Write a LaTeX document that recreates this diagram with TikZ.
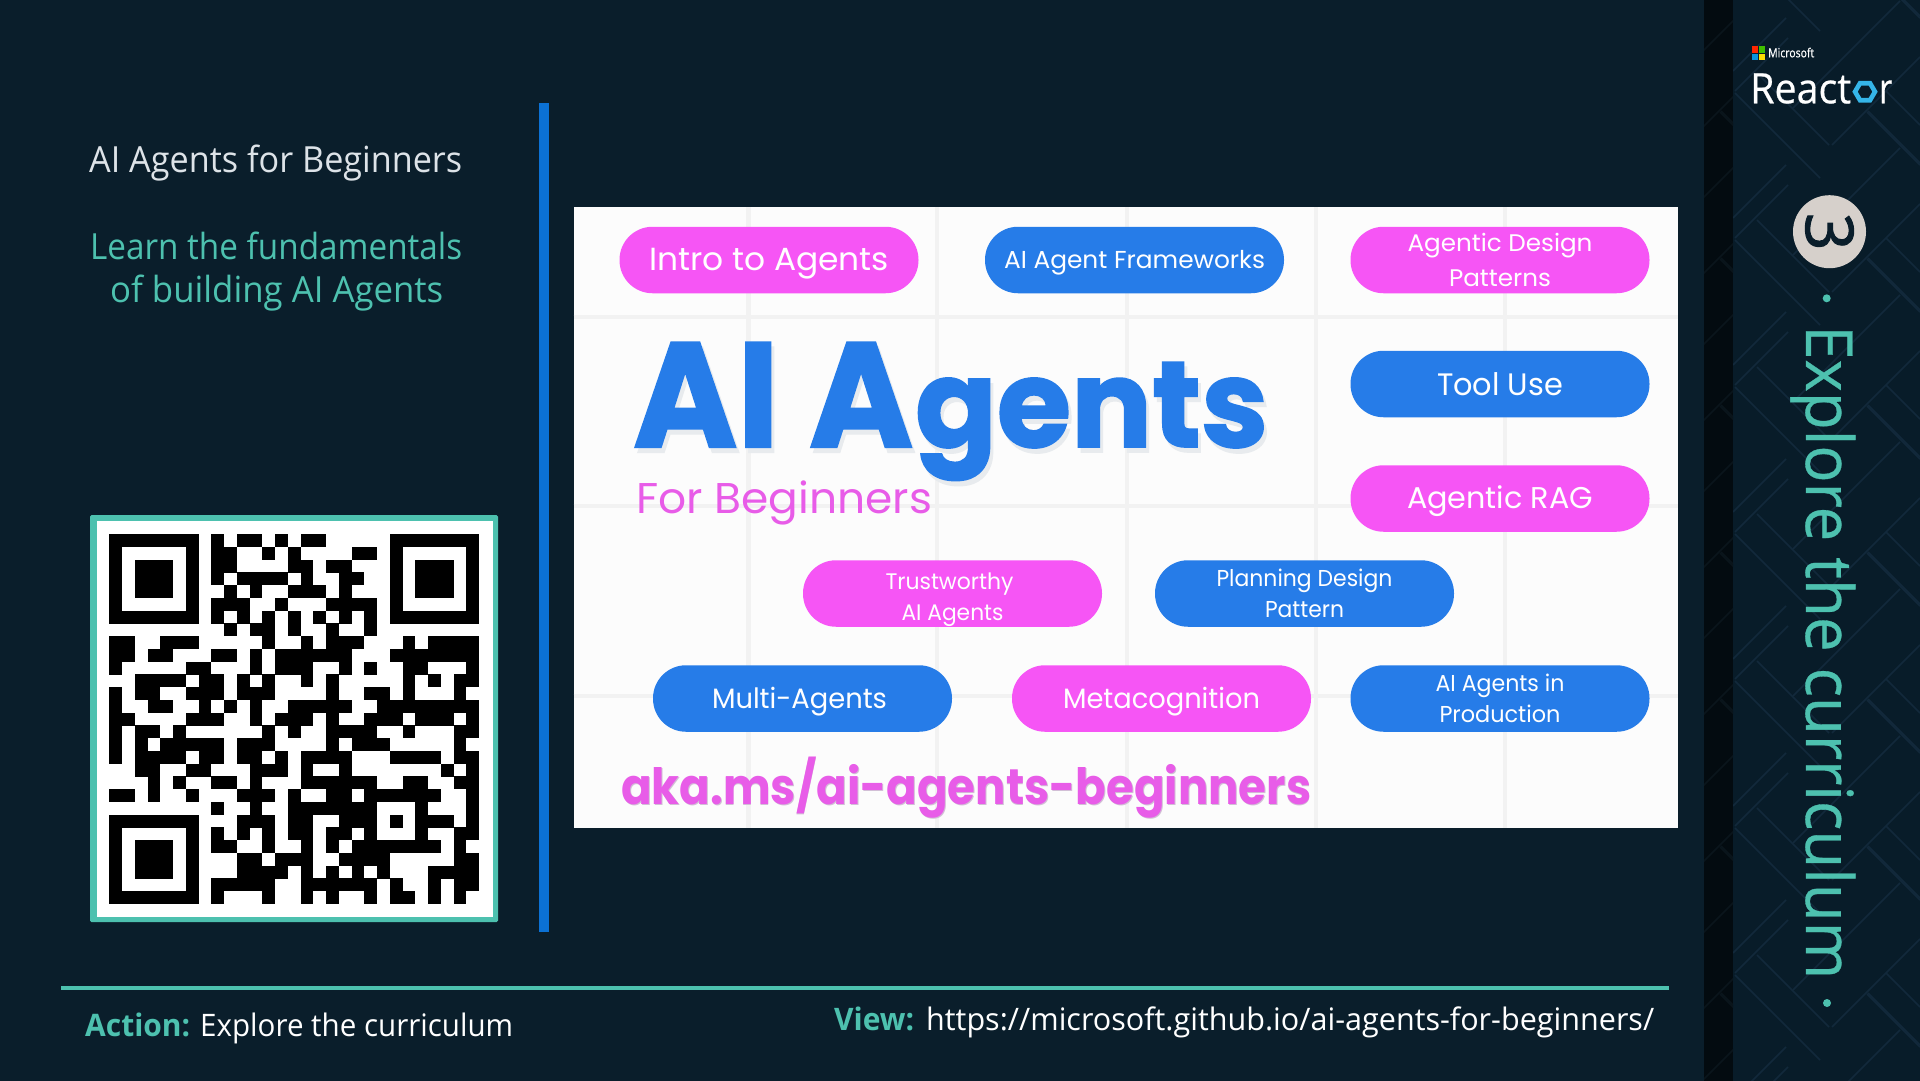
\documentclass[tikz,border=0pt]{standalone}
\usepackage{fontspec}
\usepackage{graphicx}
\newfontfamily\segr{Open Sans}
\newfontfamily\segm{Open Sans}[FakeBold=0.5]
\newfontfamily\segh{Open Sans}[FakeBold=1.5]
\newfontfamily\pop{Poppins}
\newfontfamily\popb{Poppins Bold}[FakeBold=1.5]
\newfontfamily\popc{Poppins Bold}
\definecolor{bgc}{HTML}{0A1E2B}
\definecolor{sidec}{HTML}{081C29}
\definecolor{bandc}{HTML}{030B10}
\definecolor{patc}{HTML}{12293B}
\definecolor{pat2c}{HTML}{0A151C}
\definecolor{tealc}{HTML}{4DC1AF}
\definecolor{titlec}{HTML}{DDE3E8}
\definecolor{bluec}{HTML}{267CE8}
\definecolor{pinkc}{HTML}{F655F5}
\definecolor{pink2c}{HTML}{E85CE8}
\definecolor{gridc}{HTML}{F2F2F2}
\definecolor{barc}{HTML}{0B71D4}
\definecolor{shadc}{HTML}{E8EBEE}
\definecolor{shad2c}{HTML}{D2BFD6}
\definecolor{circc}{HTML}{D6D0CB}
\definecolor{hexc}{HTML}{35B5E8}
\newlength\fitlen
\newcommand{\fitx}[2]{\settowidth{\fitlen}{#2}\pgfmathsetmacro{\fitr}{#1/\fitlen}\scalebox{\fitr}[1]{#2}}
\newcommand{\bigtext}{\fitx{280}{\fontsize{149}{160}\selectfont AI A}\kern2pt\fitx{353}{\fontsize{122}{160}\selectfont gents}}
\tikzset{
  pill/.style={rounded corners=33pt,inner sep=0pt,text=white,align=center,minimum width=299pt,minimum height=66.5pt,text depth=0pt},
  pillblue/.style={pill,fill=bluec},
  pillpink/.style={pill,fill=pinkc},
  plain/.style={inner sep=0pt,anchor=base west},
  gridline/.style={gridc,line width=4.5pt},
  patline/.style={line width=1.6pt}
}
\newcommand{\qr}[2]{\foreach \a/\b in {#2}{\fill[black] ({109.3+\a*12.75},{534.3+#1*12.75-0.15}) rectangle ({109.3+(\b+1)*12.75},{534.3+(#1+1)*12.75+0.15});}}
\newcommand{\pattile}{%
  \foreach \k in {-1,...,7}{
    \begin{scope}[yshift={\k*147pt}]
      \draw (1735,973) -- ++(53,-53);
      \draw (1733,953) -- ++(53,-53);
      \draw (1793,990) -- ++(107,-107);
      \draw (1832,1027) -- ++(88,-88);
      \draw (1757,955) -- ++(72,72);
      \draw (1735,975) -- ++(85,85);
      \draw (1867,847) -- ++(53,53);
      \draw (1868,993) -- ++(52,52);
      \draw (1886,973) -- ++(34,34);
    \end{scope}
  }
}
\begin{document}
\begin{tikzpicture}[x=1pt,y=-1pt]
\useasboundingbox (0,0) rectangle (1920,1080);
\fill[bgc] (-5,-5) rectangle (1925,1085);
% side panel
\fill[bandc] (1704,-5) rectangle (1733,1085);
\fill[sidec] (1733,-5) rectangle (1925,1085);
\begin{scope}
  \clip (1733,-5) rectangle (1925,1085);
  \begin{scope}[patline,patc]\pattile\end{scope}
\end{scope}
\begin{scope}
  \clip (1704,-5) rectangle (1733,1085);
  \begin{scope}[patline,pat2c,xshift=-147pt]\pattile\end{scope}
\end{scope}
% Microsoft logo
\fill[red!70!orange] (1752,46) rectangle (1758,52.5);
\fill[green!50!olive] (1759,46) rectangle (1765,52.5);
\fill[cyan!80!blue] (1752,53.5) rectangle (1758,60);
\fill[yellow!80!orange] (1759,53.5) rectangle (1765,60);
\node[plain,text=white] (ms) at (1768,57.3) {\fontsize{12.5}{15}\selectfont\segm\fitx{46}{Microsoft}};
\node[plain,text=white] (react) at (1750,103.3) {\fontsize{42}{50}\selectfont\segm\fitx{101}{React}};
\node[plain,text=white] (reactr) at (1879,103.3) {\fontsize{42}{50}\selectfont\segm\fitx{13}{r}};
\draw[line width=4.6pt,color=hexc,line join=miter] (1875,91.7) -- (1870,100.2) -- (1860,100.2) -- (1855,91.7) -- (1860,83.2) -- (1870,83.2) -- cycle;
% number
\fill[circc] (1829.5,231.7) circle (36.5);
\node[rotate=-90,text=bgc,inner sep=0pt] (num) at (1829.5,231.7) {\fontsize{66}{70}\selectfont\segh 3};
\fill[tealc] (1826.7,298.3) circle (4);
\node[plain,rotate=-90,text=tealc] (side) at (1806,325) {\fontsize{65}{70}\selectfont\segm\fitx{654}{Explore the curriculum}};
\fill[tealc] (1827,1003) circle (4);
% left text
\node[plain,text=titlec] (title) at (89,172) {\fontsize{36}{40}\selectfont\segr\fitx{373}{AI Agents for Beginners}};
\node[plain,text=tealc] (sub1) at (90,259) {\fontsize{36}{40}\selectfont\segr\fitx{372}{Learn the fundamentals}};
\node[plain,text=tealc] (sub2) at (110,302) {\fontsize{36}{40}\selectfont\segr\fitx{333}{of building AI Agents}};
% QR
\fill[tealc,rounded corners=1.5pt] (90,515) rectangle (498,922);
\fill[white] (96.7,521) rectangle (492.7,916.7);
\qr{0}{0/6,8/8,10/11,13/13,15/16,22/28}
\qr{1}{0/0,6/6,8/9,12/12,14/14,19/20,22/22,28/28}
\qr{2}{0/0,2/4,6/6,8/9,14/15,17/18,22/22,24/26,28/28}
\qr{3}{0/0,2/4,6/6,8/8,10/13,15/15,18/19,22/22,24/26,28/28}
\qr{4}{0/0,2/4,6/6,9/9,11/11,14/16,18/18,22/22,24/26,28/28}
\qr{5}{0/0,6/6,8/10,13/13,17/20,22/22,28/28}
\qr{6}{0/6,8/8,10/10,12/12,14/14,16/16,18/18,20/20,22/28}
\qr{7}{9/9,11/12,14/14,17/17,20/20}
\qr{8}{0/1,4/6,12/12,15/15,17/19,23/23,25/28}
\qr{9}{0/1,3/4,8/9,11/11,13/18,22/28}
\qr{10}{0/0,6/7,11/11,13/15,18/18,20/20,23/24,28/28}
\qr{11}{2/5,7/8,10/10,12/12,15/15,17/17,23/23,25/25,27/28}
\qr{12}{0/0,2/3,6/8,10/12,17/17,20/21,23/23,27/27}
\qr{13}{0/0,3/4,7/7,9/9,11/11,14/18,21/28}
\qr{14}{0/1,6/8,11/11,13/15,17/17,20/22,24/26,28/28}
\qr{15}{0/0,2/3,5/5,12/12,14/14,17/20,23/23,27/28}
\qr{16}{0/0,2/2,4/8,10/12,17/17,19/21,27/27}
\qr{17}{0/0,2/5,7/8,10/11,13/13,15/18,22/25,27/28}
\qr{18}{2/3,6/7,11/13,15/15,18/18,26/26,28/28}
\qr{19}{3/3,5/5,8/9,11/11,15/20,23/24,27/28}
\qr{20}{0/1,3/3,6/6,10/12,14/14,17/18,20/25,28/28}
\qr{21}{8/8,11/11,14/20,24/24,28/28}
\qr{22}{0/6,10/12,14/15,18/20,22/22,24/26,28/28}
\qr{23}{0/0,6/6,8/8,10/10,12/12,14/15,17/18,20/20,24/24,27/28}
\qr{24}{0/0,2/4,6/6,8/9,12/12,15/15,17/17,19/25,27/27}
\qr{25}{0/0,2/4,6/6,10/11,13/15,18/21,27/28}
\qr{26}{0/0,2/4,6/6,10/13,15/15,17/17,19/19,21/21,25/28}
\qr{27}{0/0,6/6,8/12,15/20,22/22,25/25,27/28}
\qr{28}{0/6,8/8,12/12,15/15,17/17,20/20,22/23,25/25,27/27}
% bar
\fill[barc] (539,103) rectangle (549,932);
% panel
\fill[white!99!black] (573.5,207) rectangle (1678,828);
\foreach \gx in {748.5,937,1127,1316,1505}{\draw[gridline] (\gx,207) -- (\gx,828);}
\foreach \gy in {317,506,696}{\draw[gridline] (573.5,\gy) -- (1678,\gy);}
% big title
\node[plain,text=bluec] (big) at (633,447) {\popb\rlap{\hspace{3pt}\raisebox{-5pt}{\color{shadc}\bigtext}}\bigtext};
\node[plain,text=pink2c] (forb) at (636,513) {\fontsize{43}{50}\selectfont\pop\fitx{296}{For Beginners}};
\node[plain,text=pink2c] (aka) at (621,804) {\fontsize{50}{55}\selectfont\popc\fitx{690}{\rlap{\hspace{1pt}\raisebox{-1pt}{\color{shad2c}aka.ms/ai-agents-beginners}}aka.ms/ai-agents-beginners}};
% pills
\node[pillpink,text height=21.4pt,font=\fontsize{32}{36}\selectfont\pop] (p1) at (769,260) {\fitx{240}{Intro to Agents}};
\node[pillblue,text height=16pt,font=\fontsize{24.5}{28}\selectfont\pop] (p2) at (1134.5,260) {\fitx{261}{AI Agent Frameworks}};
\node[pillpink,text height=53.4pt,font=\fontsize{24}{35}\selectfont\pop] (p3) at (1500,260) {\fitx{185}{Agentic Design}\\\fitx{102}{Patterns}};
\node[pillblue,text height=22pt,font=\fontsize{31}{36}\selectfont\pop] (p4) at (1500,384) {\fitx{126}{Tool Use}};
\node[pillpink,text height=19pt,font=\fontsize{30}{36}\selectfont\pop] (p5) at (1500,498.5) {\fitx{186}{Agentic RAG}};
\node[pillpink,text height=53pt,font=\fontsize{22.5}{31}\selectfont\pop] (p6) at (952.5,593.5) {\hspace*{-6pt}\fitx{128}{Trustworthy}\\\fitx{102}{AI Agents}};
\node[pillblue,text height=47pt,font=\fontsize{23}{31}\selectfont\pop] (p7) at (1304.5,593.5) {\fitx{176}{Planning Design}\\\fitx{79}{Pattern}};
\node[pillblue,text height=19pt,font=\fontsize{28}{32}\selectfont\pop] (p8) at (802.5,698.5) {\hspace*{-6pt}\fitx{175}{Multi-Agents}};
\node[pillpink,text height=19pt,font=\fontsize{28}{32}\selectfont\pop] (p9) at (1161.5,698.5) {\fitx{197}{Metacognition}};
\node[pillblue,text height=48.4pt,font=\fontsize{23}{31.7}\selectfont\pop] (p10) at (1500,698.5) {\fitx{129}{AI Agents in}\\\fitx{121}{Production}};
% footer
\draw[tealc,line width=3.3pt] (61,988) -- (1669,988);
\node[plain,text=white] (act) at (85,1036) {\fontsize{31}{36}\selectfont\segr\fitx{105}{\color{tealc}\bfseries Action:}\hspace{10pt}\fitx{313}{Explore the curriculum}};
\node[plain,text=white] (view) at (834,1030) {\fontsize{31}{36}\selectfont\segr\fitx{80}{\color{tealc}\bfseries View:}\hspace{12pt}\fitx{728}{https://microsoft.github.io/ai-agents-for-beginners/}};
\end{tikzpicture}
\end{document}
